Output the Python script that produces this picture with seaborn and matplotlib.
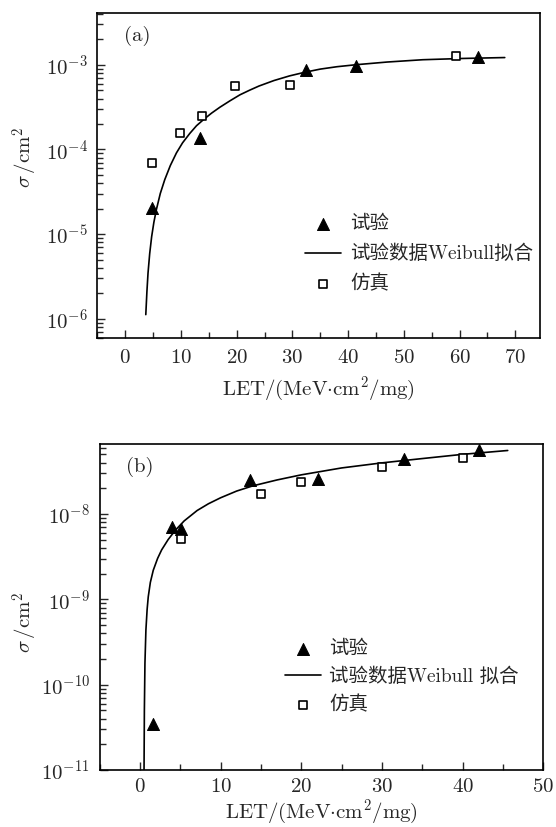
import matplotlib
matplotlib.use('Agg')
import matplotlib.pyplot as plt
from matplotlib.ticker import FixedLocator, LogLocator, MultipleLocator, NullFormatter
import seaborn as sns

sns.set_style('ticks')
plt.rcParams['font.family'] = ['cmr10', 'Noto Sans CJK SC']
plt.rcParams['mathtext.fontset'] = 'cm'
plt.rcParams['axes.formatter.use_mathtext'] = True
plt.rcParams['axes.unicode_minus'] = False

# panel (a): LET in MeV*cm2/mg, cross-section in cm2
let_a_test = [4.8, 13.4, 32.4, 41.5, 63.3]
sigma_a_test = [2.05e-5, 1.35e-4, 8.6e-4, 9.8e-4, 1.23e-3]
let_a_sim = [4.9, 9.8, 13.7, 19.7, 29.6, 59.4]
sigma_a_sim = [7.0e-5, 1.57e-4, 2.48e-4, 5.6e-4, 5.86e-4, 1.29e-3]
# fitted curve
let_a_fit = [3.7, 3.9, 4.1, 4.4, 4.75, 5.15, 5.6, 6.3, 7.1, 8.1, 9.2, 10.3,
             11.6, 12.8, 14.0, 15.5, 17.0, 18.8, 20.6, 22.3, 24.0, 26.7,
             29.5, 32.2, 35.0, 38.0, 41.5, 47.0, 53.4, 60.5, 68.1]
sigma_a_fit = [1.12e-6, 2.09e-6, 3.47e-6, 5.89e-6, 9.33e-6, 1.38e-5, 1.95e-5,
               3.02e-5, 4.40e-5, 6.46e-5, 9.12e-5, 1.20e-4, 1.55e-4, 1.91e-4,
               2.24e-4, 2.69e-4, 3.16e-4, 3.76e-4, 4.43e-4, 5.01e-4, 5.62e-4,
               6.53e-4, 7.41e-4, 8.17e-4, 8.91e-4, 9.51e-4, 1.005e-3, 1.08e-3,
               1.15e-3, 1.19e-3, 1.22e-3]
yticks_a = [1e-6, 1e-5, 1e-4, 1e-3]

# panel (b)
let_b_test = [1.6, 4.0, 5.05, 13.7, 22.1, 32.7, 42.0]
sigma_b_test = [3.5e-11, 7.1e-9, 6.7e-9, 2.5e-8, 2.58e-8, 4.4e-8, 5.6e-8]
let_b_sim = [5.1, 15.0, 20.0, 30.0, 40.1]
sigma_b_sim = [5.1e-9, 1.74e-8, 2.4e-8, 3.55e-8, 4.5e-8]
let_b_fit = [0.5, 0.56, 0.63, 0.75, 0.9, 1.04, 1.3, 1.66, 2.2, 2.7, 3.5, 4.4,
             5.5, 7.1, 8.5, 10.0, 12.0, 14.0, 17.0, 20.0, 25.0, 30.0, 35.0,
             40.0, 45.6]
sigma_b_fit = [5.0e-12, 5.0e-11, 1.78e-10, 4.37e-10, 7.6e-10, 1.07e-9,
               1.58e-9, 2.19e-9, 3.02e-9, 3.80e-9, 5.01e-9, 6.46e-9, 8.32e-9,
               1.10e-8, 1.32e-8, 1.55e-8, 1.86e-8, 2.14e-8, 2.51e-8, 2.88e-8,
               3.47e-8, 3.98e-8, 4.47e-8, 5.01e-8, 5.56e-8]
yticks_b = [1e-11, 1e-10, 1e-9, 1e-8]

LABEL_TEST = '试验'
LABEL_SIM = '仿真'
XLABEL = r'$\mathrm{LET/(MeV{\cdot}cm^2/mg)}$'
YLABEL = r'$\sigma\,/\mathrm{cm}^2$'
FS = 15


def draw_panel(ax, let_test, sig_test, let_fit, sig_fit, let_sim, sig_sim,
               fit_label, tag, xlim, ylim, yticks, legend_anchor, ylabel_pos,
               spacing, xpad, xlabelpad):
    ax.set_yscale('log')
    sns.scatterplot(x=let_test, y=sig_test, ax=ax, marker='^', s=75,
                    color='black', edgecolor='black', label=LABEL_TEST, zorder=3)
    sns.lineplot(x=let_fit, y=sig_fit, ax=ax, color='black', lw=1.2,
                 sort=False, estimator=None, label=fit_label)
    sns.scatterplot(x=let_sim, y=sig_sim, ax=ax, marker='s', s=32,
                    facecolor='white', edgecolor='black', linewidth=1.2,
                    label=LABEL_SIM, zorder=3)
    ax.set_xlim(*xlim)
    ax.set_ylim(*ylim)
    ax.xaxis.set_major_locator(MultipleLocator(10))
    ax.xaxis.set_minor_locator(MultipleLocator(5))
    ax.yaxis.set_major_locator(FixedLocator(yticks))
    ax.yaxis.set_minor_locator(LogLocator(base=10, subs=range(2, 10), numticks=20))
    ax.yaxis.set_minor_formatter(NullFormatter())
    ax.tick_params(which='both', direction='in', top=False, right=False,
                   labelsize=FS, width=1.0)
    ax.tick_params(which='major', length=6)
    ax.tick_params(which='minor', length=4, labelleft=False, labelbottom=False)
    ax.tick_params(axis='x', pad=xpad)
    ax.tick_params(axis='y', pad=7)
    for spine in ax.spines.values():
        spine.set_visible(True)
        spine.set_linewidth(1.2)
        spine.set_color('black')
    ax.set_xlabel(XLABEL, fontsize=FS, labelpad=xlabelpad)
    ax.set_ylabel(YLABEL, fontsize=FS)
    ax.yaxis.set_label_coords(*ylabel_pos)
    ax.text(0.06, 0.93, tag, transform=ax.transAxes, fontsize=FS,
            va='center', ha='left')
    ax.legend(loc='upper left', bbox_to_anchor=legend_anchor, frameon=False,
              fontsize=14, borderpad=0, borderaxespad=0, handlelength=1.85,
              handletextpad=0.45, labelspacing=spacing)


fig = plt.figure(figsize=(5.56, 8.27), dpi=100)
ax_a = fig.add_axes([0.175, 0.591, 0.796, 0.393])
ax_b = fig.add_axes([0.179, 0.069, 0.798, 0.394])

draw_panel(ax_a, let_a_test, sigma_a_test, let_a_fit, sigma_a_fit,
           let_a_sim, sigma_a_sim, '试验数据Weibull拟合', '(a)',
           (-5, 74.4), (10 ** -6.23, 10 ** -2.39), yticks_a, (0.47, 0.378),
           (-0.13, 0.557), 0.6, 8, 5)
draw_panel(ax_b, let_b_test, sigma_b_test, let_b_fit, sigma_b_fit,
           let_b_sim, sigma_b_sim, '试验数据Weibull 拟合', '(b)',
           (-5, 50), (1e-11, 10 ** -7.18), yticks_b, (0.417, 0.399),
           (-0.135, 0.454), 0.5, 6, 1)

fig.savefig('out.png', dpi=100)
